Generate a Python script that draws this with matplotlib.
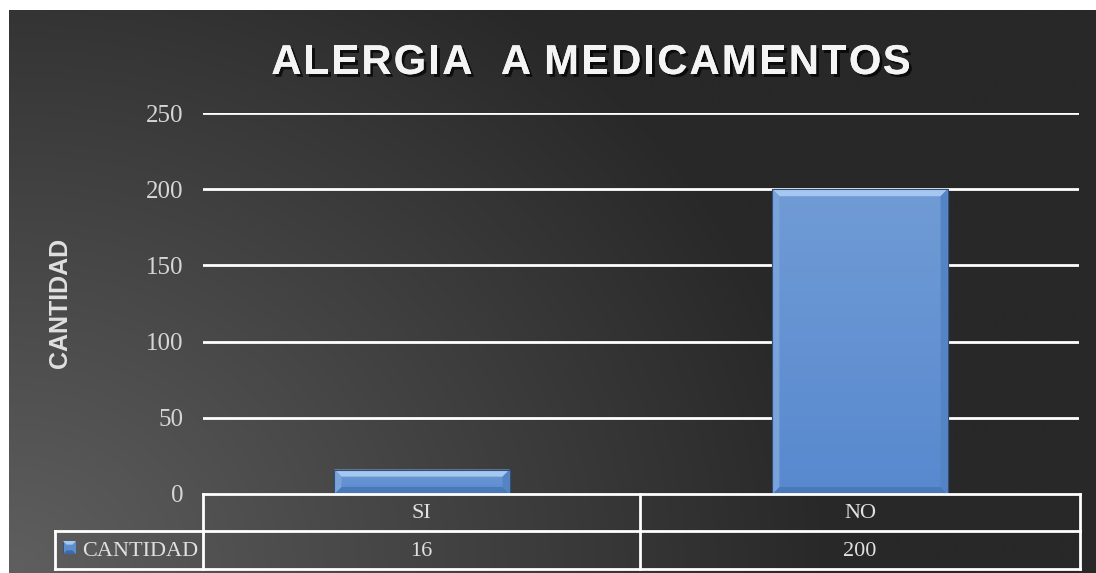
import numpy as np
import matplotlib
matplotlib.use("Agg")
import matplotlib.pyplot as plt
import matplotlib.patheffects as pe
from matplotlib.patches import Polygon, Rectangle
from matplotlib.lines import Line2D
from matplotlib.font_manager import FontProperties

# ---- data ----
categories = ["SI", "NO"]
values = [16, 200]
series_name = "CANTIDAD"
yticks = [0, 50, 100, 150, 200, 250]
title = "ALERGIA  A MEDICAMENTOS"
ylabel = "CANTIDAD"

W, H = 1096, 573
fig = plt.figure(figsize=(W / 100, H / 100), dpi=100, facecolor="white")

def fx(x):
    return x / W

def fy(y):
    return 1 - y / H

# ---- gradient background ----
bg = fig.add_axes([fx(9), 0, 1 - fx(9), fy(10)])
bg.set_axis_off()
nx, ny = 400, 220
xs = np.linspace(9, W, nx)
ys = np.linspace(10, H, ny)
X, Y = np.meshgrid(xs, ys)
d = np.sqrt(((X - 9) / 1.15) ** 2 + (Y - H) ** 2)
v = 40 + 55 * np.clip(1 - d / 720, 0, 1)
img = np.dstack([v, v, v]) / 255.0
bg.imshow(img, extent=[0, 1, 0, 1], aspect="auto", origin="upper", interpolation="bilinear")
bg.set_xlim(0, 1)
bg.set_ylim(0, 1)

# ---- main axes ----
ax_l, ax_r, ax_t, ax_b = 203, 1079, 113, 494
ax = fig.add_axes([fx(ax_l), fy(ax_b), fx(ax_r - ax_l), (ax_b - ax_t) / H])
ax.patch.set_alpha(0)
ax.set_xlim(-0.5, len(categories) - 0.5)
ax.set_ylim(0, 250)
for s in ax.spines.values():
    s.set_visible(False)
ax.set_yticks(yticks)
ax.set_yticklabels([str(t) for t in yticks], fontfamily="Liberation Serif",
                   fontsize=18, color="#d6d6d6")
ax.tick_params(axis="y", length=0, pad=14)
ax.set_xticks([])
for t in yticks[1:]:
    ax.axhline(t, color="white", lw=2, zorder=1)

# bars
xpos = np.arange(len(categories))
bars = ax.bar(xpos, values, width=0.4, color="#6391d0", edgecolor="#2f4f7a",
              linewidth=0.8, zorder=3)
ax_wpx = ax_r - ax_l
ax_hpx = ax_b - ax_t
bev = 7
dx = bev / ax_wpx * 2.0
dy = bev / ax_hpx * 250.0
for b in bars:
    x0 = b.get_x(); x1 = x0 + b.get_width()
    y0 = b.get_y(); y1 = y0 + b.get_height()
    grad = np.linspace(0, 1, 64).reshape(-1, 1)
    c_top = np.array([0x70, 0x9b, 0xd5]) / 255
    c_bot = np.array([0x58, 0x89, 0xcf]) / 255
    gimg = (c_top[None, None, :] * (1 - grad[..., None]) + c_bot[None, None, :] * grad[..., None])
    gimg = np.repeat(gimg, 2, axis=1)
    im = ax.imshow(gimg, extent=[x0, x1, y0, y1], aspect="auto", origin="upper",
                   zorder=3.5, interpolation="bilinear")
    im.set_clip_path(b)
    ax.add_patch(Polygon([(x0, y1), (x1, y1), (x1 - dx, y1 - dy), (x0 + dx, y1 - dy)],
                         closed=True, fc="#a6c8f0", ec="none", zorder=4))
    ax.add_patch(Polygon([(x0, y0), (x1, y0), (x1 - dx, y0 + dy), (x0 + dx, y0 + dy)],
                         closed=True, fc="#4a78b8", ec="none", zorder=4))
    ax.add_patch(Polygon([(x0, y0), (x0, y1), (x0 + dx, y1 - dy), (x0 + dx, y0 + dy)],
                         closed=True, fc="#7aa3da", ec="none", zorder=4))
    ax.add_patch(Polygon([(x1, y0), (x1, y1), (x1 - dx, y1 - dy), (x1 - dx, y0 + dy)],
                         closed=True, fc="#5584c4", ec="none", zorder=4))
    ax.add_patch(Rectangle((x0, y0), x1 - x0, y1 - y0, fc="none", ec="#2f4f7a",
                           lw=0.8, zorder=5))

# ---- title with letter spacing ----
renderer = fig.canvas.get_renderer()
tprop = FontProperties(family="Liberation Sans", weight="bold", size=30)
tracking = 2.3
def text_w(s):
    if not s:
        return 0.0
    w, h, dsc = renderer.get_text_width_height_descent(s, tprop, ismath=False)
    return w
total = text_w(title) + tracking * (len(title) - 1)
start = 591 - total / 2
shadow = [pe.withSimplePatchShadow(offset=(2, -2), shadow_rgbFace="black", alpha=0.7), pe.Normal()]
for i, ch in enumerate(title):
    if ch == " ":
        continue
    xpx = start + text_w(title[:i]) + tracking * i
    fig.text(fx(xpx), fy(63), ch, ha="left", va="center", color="#f4f4f4",
             fontproperties=tprop, path_effects=shadow)

fig.text(fx(60), fy(303), ylabel, ha="center", va="center", rotation=90,
         color="#e0e0e0", fontsize=18, fontweight="bold", fontfamily="Liberation Sans")

# ---- data table ----
lw = 2
tc = "white"
row1_top, row1_bot, row2_bot = 494, 531, 569
col_edges = [ax_l, 640, 1080]
hdr_left = 55

def hline(x0, x1, y):
    fig.add_artist(Line2D([fx(x0), fx(x1)], [fy(y), fy(y)], color=tc, lw=lw))

def vline(x, y0, y1):
    fig.add_artist(Line2D([fx(x), fx(x)], [fy(y0), fy(y1)], color=tc, lw=lw))

hline(col_edges[0], col_edges[-1], row1_top)
hline(hdr_left, col_edges[-1], row1_bot)
hline(hdr_left, col_edges[-1], row2_bot)
for cx in col_edges:
    vline(cx, row1_top, row2_bot)
vline(hdr_left, row1_bot, row2_bot)

for i, (cat, val) in enumerate(zip(categories, values)):
    cxm = (col_edges[i] + col_edges[i + 1]) / 2
    fig.text(fx(cxm), fy((row1_top + row1_bot) / 2 + 1), cat, ha="center", va="center",
             color="#e0e0e0", fontsize=16, fontfamily="Liberation Serif")
    fig.text(fx(cxm), fy((row1_bot + row2_bot) / 2 + 1), str(val), ha="center", va="center",
             color="#e0e0e0", fontsize=16, fontfamily="Liberation Serif")

# legend key
kax = fig.add_axes([fx(63), fy(554), fx(13), 13 / H])
kax.set_axis_off()
kax.set_xlim(0, 1); kax.set_ylim(0, 1)
kax.add_patch(Rectangle((0, 0), 1, 1, fc="#5f8ed0", ec="#2f4f7a", lw=0.6))
kax.add_patch(Polygon([(0, 1), (1, 1), (0.72, 0.72), (0.28, 0.72)], fc="#a6c8f0", ec="none"))
kax.add_patch(Polygon([(0, 0), (1, 0), (0.72, 0.28), (0.28, 0.28)], fc="#3f6aa8", ec="none"))
fig.text(fx(82), fy((row1_bot + row2_bot) / 2 + 1), series_name, ha="left", va="center",
         color="#e0e0e0", fontsize=16, fontfamily="Liberation Serif")

fig.savefig("out.png", dpi=100, facecolor="white")
